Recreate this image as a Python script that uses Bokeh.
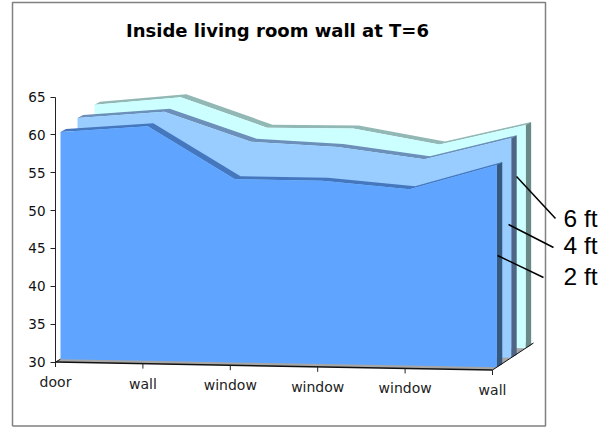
from bokeh.plotting import figure
from bokeh.embed import file_html
from bokeh.resources import INLINE
from bokeh.models import Range1d, LinearAxis, FixedTicker
from bokeh.core.properties import value

title = "Inside living room wall at T=6"
categories = ["door", "wall", "window", "window", "window", "wall"]
series_names = ["2 ft", "4 ft", "6 ft"]
ft2 = [60.0, 61.0, 54.2, 54.2, 53.3, 56.7]
ft4 = [60.6, 61.65, 57.9, 57.4, 56.0, 59.0]
ft6 = [61.1, 62.3, 58.5, 58.6, 56.7, 59.5]
y_ticks = [30, 35, 40, 45, 50, 55, 60, 65]
face_colors = ["#5FA5FF", "#99CCFF", "#CCFFFF"]
top_colors = ["#4477BE", "#6C90BA", "#92B8B6"]
side_colors = ["#35587F", "#4F6585", "#6A8A88"]

W, H = 613, 427
PX_X, PX_Y = 87.4, 7.57
X_LO = -55 / PX_X
X_HI = X_LO + W / PX_X
Y_HI = 30 + 361.5 / PX_Y
Y_LO = Y_HI - H / PX_Y
SLOPE = 1.6 / PX_Y          # floor fall per category, in value units
DX, DY = 17 / PX_X, 9.5 / PX_Y  # shift per series of depth
TX, TY = 5.5 / PX_X, 3 / PX_Y   # thickness of each ribbon
D0 = 5 / PX_X / DX
NARROW = 0.03               # perspective narrowing of depth per category

def px(i, d):
    return i + d * DX * (1 - i * NARROW)

def py(i, v, d):
    return v - i * SLOPE + d * DY

a = lambda x: X_LO + x / PX_X
b = lambda y: Y_HI - y / PX_Y

p = figure(width=W, height=H, output_backend="svg", toolbar_location=None,
           x_range=Range1d(X_LO, X_HI), y_range=Range1d(Y_LO, Y_HI),
           min_border=0, outline_line_color=None, x_axis_type=None, y_axis_type=None)
p.grid.visible = False

# frame
p.line([a(12), a(545), a(545), a(12), a(12)], [b(425.5), b(425.5), b(2), b(2), b(425.5)],
       line_color="#808080", line_width=1.5)

# y axis
yaxis = LinearAxis(fixed_location=0, ticker=FixedTicker(ticks=y_ticks), bounds=(30, 65),
                   axis_line_color="#222222", major_tick_line_color="#222222",
                   major_tick_in=0, major_tick_out=5, minor_tick_line_color=None,
                   major_label_text_font="DejaVu Sans", major_label_text_font_size="13.5px",
                   major_label_text_color="#111111", major_label_standoff=5)
p.add_layout(yaxis, "left")

# floor
n = len(categories) - 1
fd = 41 / PX_X / DX / (1 - n * NARROW)
p.patch([0, n, px(n, fd), px(0, fd)],
        [py(0, 30, 0), py(n, 30, 0), py(n, 30, fd), py(0, 30, fd)],
        fill_color="#A6A6A6", line_color=None)

# series, back to front
for k in [2, 1, 0]:
    vals = [ft2, ft4, ft6][k]
    d = D0 + k
    xs = [px(i, d) for i in range(6)]
    ys = [py(i, v, d) for i, v in enumerate(vals)]
    base = [py(i, 30, d) for i in range(6)]
    p.patch(xs + [x + TX for x in xs[::-1]], ys + [y + TY for y in ys[::-1]],
            fill_color=top_colors[k], line_color=None)
    p.patch([xs[5], xs[5] + TX, xs[5] + TX, xs[5]],
            [ys[5], ys[5] + TY, base[5] + TY, base[5]],
            fill_color=side_colors[k], line_color=None)
    p.patch(xs + xs[::-1], ys + base[::-1], fill_color=face_colors[k], line_color=None)

# x axis: baseline, depth edge, ticks and labels
p.line([0, n], [py(0, 30, 0), py(n, 30, 0)], line_color="#111111", line_width=1.5)
p.line([n, px(n, fd)], [py(n, 30, 0), py(n, 30, fd)], line_color="#111111", line_width=1)
p.line([0, px(0, D0)], [py(0, 30, 0), py(0, 30, D0)], line_color="#111111", line_width=1)
for i, c in enumerate(categories):
    p.segment([i], [py(i, 30, 0)], [i], [py(i, 30, 0) - 5 / PX_Y], line_color="#222222")
    p.text([i], [py(i, 30, 0) - 12 / PX_Y], text=[c], text_font=value("DejaVu Sans"),
           text_font_size="14px", text_color="#222222", text_align="center", text_baseline="top")

# title
p.text([a(277)], [b(30)], text=[title], text_font=value("DejaVu Sans"),
       text_font_style="bold", text_font_size="18px", text_color="#000000",
       text_align="center", text_baseline="middle")

# series labels with leaders
tops = [(497, 255, 543, 277, "2 ft", 276), (508, 224, 553, 247, "4 ft", 245), (516, 176, 555, 218, "6 ft", 218)]
for k, (x0, y0, x1, y1, lab, ly) in enumerate(tops):
    p.line([a(x0), a(x1)], [b(y0), b(y1)], line_color="#000000", line_width=1.5)
    p.text([a(563)], [b(ly)], text=[series_names[k]], text_font=value("Liberation Sans"),
           text_font_size="24.5px", text_color="#000000", text_align="left", text_baseline="middle")

open("out.html", "w").write(file_html(p, INLINE))
